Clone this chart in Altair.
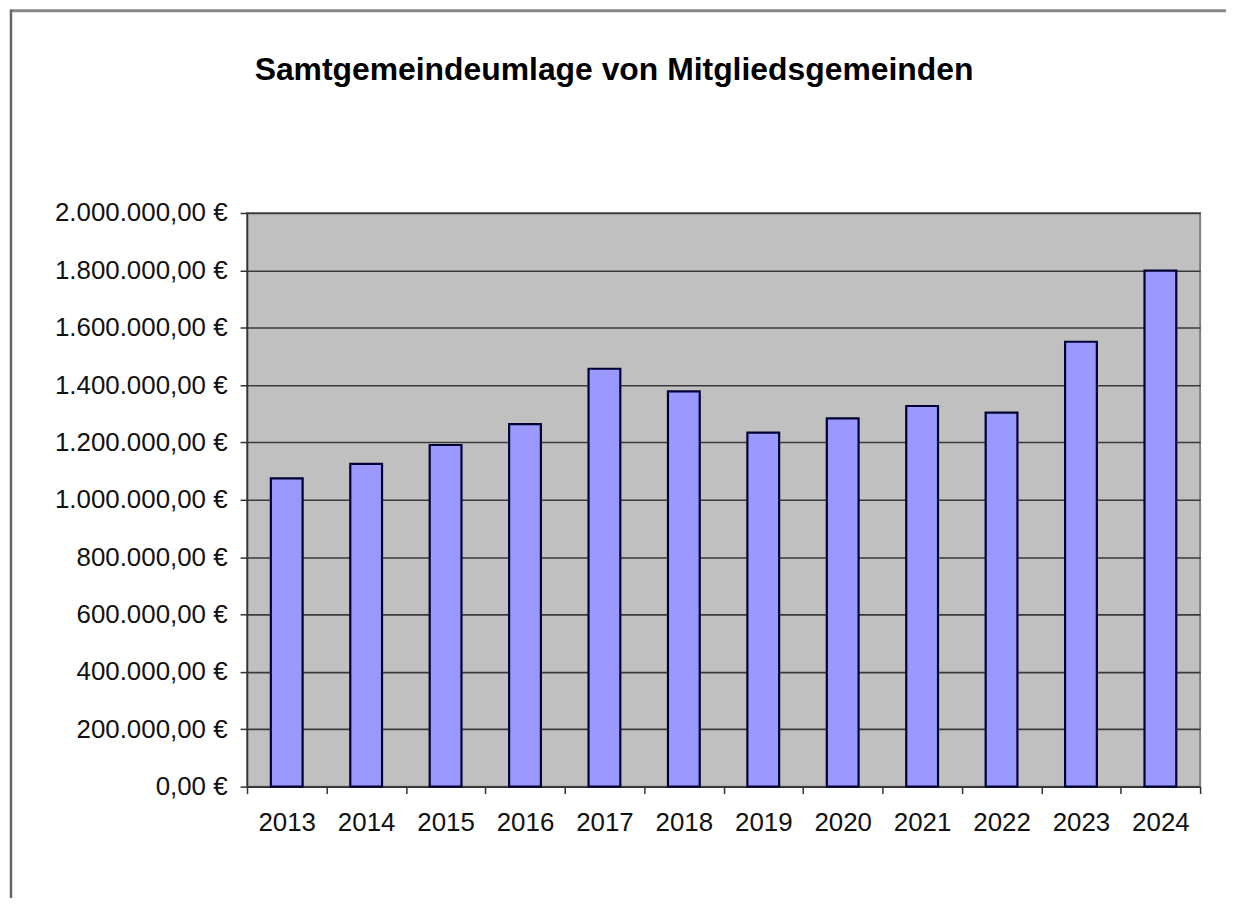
import altair as alt
import pandas as pd

title_text = "Samtgemeindeumlage von Mitgliedsgemeinden"
years = ["2013", "2014", "2015", "2016", "2017", "2018",
         "2019", "2020", "2021", "2022", "2023", "2024"]
values = [1075000, 1125000, 1191000, 1264000, 1457000, 1378000,
          1234000, 1284000, 1327000, 1304000, 1551000, 1799000]
y_ticks = [0, 200000, 400000, 600000, 800000, 1000000,
           1200000, 1400000, 1600000, 1800000, 2000000]

df = pd.DataFrame({"Jahr": years, "Umlage": values})

label_expr = ("replace(replace(replace(format(datum.value, ',.2f'), regexp(',', 'g'), '#'), "
              "regexp('\\\\.', 'g'), ','), regexp('#', 'g'), '.') + ' €'")

bars = alt.Chart(df).mark_bar(
    width=alt.RelativeBandSize(0.4),
    fill="#9999FF",
    stroke="#000033",
    strokeWidth=2.2,
).encode(
    x=alt.X("Jahr:O", sort=years,
            scale=alt.Scale(paddingInner=0, paddingOuter=0),
            axis=alt.Axis(title=None, labelAngle=0, tickBand="extent",
                          labelFontSize=26, labelFont="Liberation Sans",
                          labelColor="#111111", labelPadding=16,
                          tickSize=7, tickColor="#333333", tickWidth=1.5,
                          domainColor="#333333", domainWidth=1.5,
                          grid=False)),
    y=alt.Y("Umlage:Q",
            scale=alt.Scale(domain=[0, 2000000], nice=False),
            axis=alt.Axis(title=None, values=y_ticks, labelExpr=label_expr,
                          labelFontSize=26, labelFont="Liberation Sans",
                          labelColor="#111111", labelPadding=13,
                          tickSize=7, tickColor="#333333", tickWidth=1.5,
                          domainColor="#333333", domainWidth=1.5,
                          grid=True, gridColor="#3a3a3a", gridWidth=1.6)),
)

frame_data = alt.Data(values=[{"k": 1}])
frame_top = alt.Chart(frame_data).mark_rule(color="#888888", strokeWidth=3).encode(
    x=alt.value(-238), x2=alt.value(990), y=alt.value(-203))
frame_left = alt.Chart(frame_data).mark_rule(color="#666666", strokeWidth=2.5).encode(
    x=alt.value(-237), y=alt.value(-204), y2=alt.value(740))

title = alt.Chart(alt.Data(values=[{"t": title_text}])).mark_text(
    font="Liberation Sans", fontSize=32, fontWeight="bold", color="#000000",
    align="center", baseline="alphabetic",
).encode(text="t:N", x=alt.value(368.5), y=alt.value(-134))

chart = alt.layer(frame_top, frame_left, bars, title).properties(
    width=957,
    height=576,
    padding={"left": 240, "top": 204, "right": 26, "bottom": 110},
    autosize=alt.AutoSizeParams(type="none"),
    background="white",
).configure_view(
    fill="#C0C0C0", stroke="#808080", strokeWidth=2
)

chart.save("out.html", embed_options={"renderer": "svg", "actions": False})
